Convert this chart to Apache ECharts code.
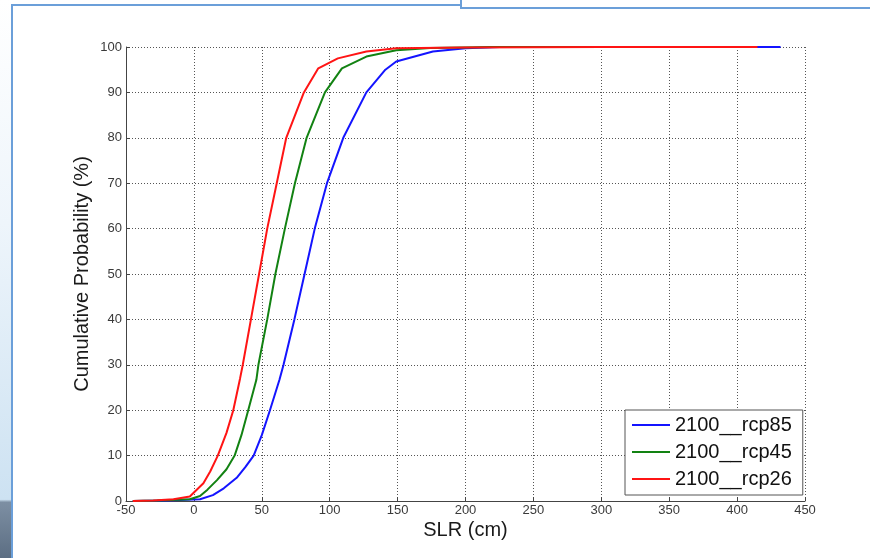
<!DOCTYPE html>
<html>
<head>
<meta charset="utf-8">
<script src="https://cdn.jsdelivr.net/npm/echarts@6/dist/echarts.min.js"></script>
<style>
html,body{margin:0;padding:0;background:#fff;}
#chart{width:870px;height:558px;}
</style>
</head>
<body>
<div id="chart"></div>
<script>
// Data: [SLR (cm), cumulative probability (%)]
var seriesNames = ['2100__rcp85', '2100__rcp45', '2100__rcp26'];
var rcp85 = [[-45,0],[-20,0.1],[4.5,0.4],[14,1.3],[22,2.8],[31.5,5.1],[38,7.5],[44,10],[50,14.5],[56,20],[63,26.7],[66,30],[74,40],[81.5,50],[89,60],[98,70],[110,80],[127,90],[141,95],[149,96.8],[176,99],[200,99.7],[225,100],[432,100]];
var rcp45 = [[-45,0],[-27,0.1],[-3,0.4],[4.5,1.1],[10,2.5],[17,4.6],[24,7],[30,10],[35,14.5],[40,20],[46,26.7],[47.5,30],[54,40],[60,50],[67,60],[74.4,70],[83,80],[96.5,90],[109,95.3],[127,97.9],[149,99.3],[174,99.8],[220,100],[300,100]];
var rcp26 = [[-45,0],[-30,0.1],[-15,0.4],[-3,1],[7,3.9],[12,6.5],[17.6,10],[24,15],[29,20],[34,27],[36,30],[42,40],[48,50],[54,60],[61,70],[68,80],[81,90],[91.6,95.3],[106,97.5],[127,99],[149,99.7],[200,99.9],[300,100],[415,100]];
var seriesColors = ['#1414ff', '#128212', '#ff1414'];
var xTicks = {min: -50, max: 450, interval: 50};
var yTicks = {min: 0, max: 100, interval: 10};

var chart = echarts.init(document.getElementById('chart'));
var gridDots = {show: true, lineStyle: {color: '#555', width: 1, type: [1, 2]}};
function axisBase() {
  return {
    axisLine: {show: true, onZero: false, lineStyle: {color: '#444', width: 1}},
    axisTick: {show: true, inside: true, length: 4, lineStyle: {color: '#444'}},
    splitLine: gridDots,
    nameMoveOverlap: false,
    nameTextStyle: {fontFamily: 'Liberation Sans, Arial', fontSize: 20, color: '#1a1a1a'}
  };
}
var dataSets = [rcp85, rcp45, rcp26];
var option = {
  animation: false,
  backgroundColor: '#fff',
  grid: {left: 126, top: 47, width: 679, height: 454},
  xAxis: Object.assign(axisBase(), {
    type: 'value', min: xTicks.min, max: xTicks.max, interval: xTicks.interval,
    name: 'SLR (cm)', nameLocation: 'middle', nameGap: 19,
    axisLabel: {fontFamily: 'Liberation Sans, Arial', fontSize: 13, color: '#3a3a3a', margin: 3}
  }),
  yAxis: Object.assign(axisBase(), {
    type: 'value', min: yTicks.min, max: yTicks.max, interval: yTicks.interval,
    name: 'Cumulative Probability (%)', nameLocation: 'middle', nameGap: 34,
    axisLabel: {fontFamily: 'Liberation Sans, Arial', fontSize: 13, color: '#3a3a3a', margin: 4}
  }),
  legend: {
    orient: 'vertical', left: 625, top: 410,
    data: seriesNames,
    icon: 'rect', itemWidth: 38, itemHeight: 2, itemGap: 7,
    padding: [5, 11, 6, 7],
    backgroundColor: '#fff', borderColor: '#555', borderWidth: 1,
    textStyle: {fontFamily: 'Liberation Sans, Arial', fontSize: 20, lineHeight: 20, color: '#111'}
  },
  series: seriesNames.map(function (n, i) {
    return {
      name: n, type: 'line', data: dataSets[i], symbol: 'none',
      lineStyle: {color: seriesColors[i], width: 2},
      itemStyle: {color: seriesColors[i]}, z: 2 + i
    };
  }),
  graphic: [
    {type: 'rect', shape: {x: 0, y: 0, width: 11, height: 558}, silent: true,
      style: {fill: new echarts.graphic.LinearGradient(0, 0, 0, 1, [
        {offset: 0, color: '#ffffff'}, {offset: 0.4, color: '#eef5fb'},
        {offset: 0.895, color: '#cde2f2'}, {offset: 0.9, color: '#7d8fa3'},
        {offset: 1, color: '#5c6e83'}])}},
    {type: 'line', shape: {x1: 12, y1: 5, x2: 12, y2: 558}, silent: true, style: {stroke: '#6b9fd9', lineWidth: 2}},
    {type: 'line', shape: {x1: 11, y1: 5, x2: 461, y2: 5}, silent: true, style: {stroke: '#6b9fd9', lineWidth: 2}},
    {type: 'line', shape: {x1: 461, y1: 0, x2: 461, y2: 8}, silent: true, style: {stroke: '#6b9fd9', lineWidth: 2}},
    {type: 'line', shape: {x1: 460, y1: 8, x2: 870, y2: 8}, silent: true, style: {stroke: '#6b9fd9', lineWidth: 2}}
  ]
};
chart.setOption(option);
</script>
</body>
</html>
